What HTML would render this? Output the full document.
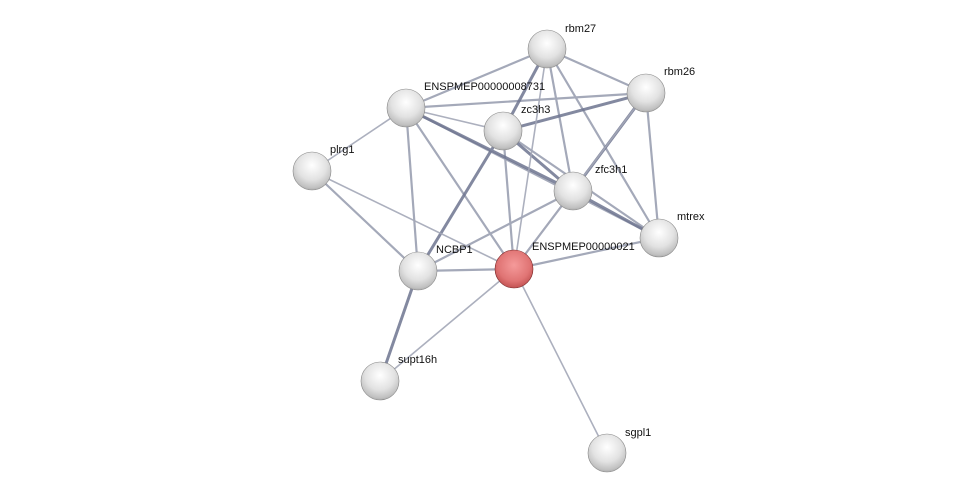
<!DOCTYPE html>
<html><head><meta charset="utf-8"><style>
html,body{margin:0;padding:0;background:#fff;}
svg{display:block;}
text{font-family:"Liberation Sans",Arial,sans-serif;font-size:11px;fill:#111;}
</style></head><body>
<svg width="975" height="499" viewBox="0 0 975 499" xmlns="http://www.w3.org/2000/svg">
<defs>
<radialGradient id="g" cx="0.5" cy="0.35" r="0.7">
<stop offset="0" stop-color="#ffffff"/><stop offset="0.55" stop-color="#e2e2e2"/><stop offset="0.85" stop-color="#c0c0c0"/><stop offset="1" stop-color="#9a9a9a"/>
</radialGradient>
<radialGradient id="r" cx="0.5" cy="0.4" r="0.7">
<stop offset="0" stop-color="#f59a9a"/><stop offset="0.6" stop-color="#e07474"/><stop offset="0.88" stop-color="#c05050"/><stop offset="1" stop-color="#8a2e2e"/>
</radialGradient>
</defs>
<g stroke-linecap="round">
<g stroke="#8e94a8" stroke-width="2.2" opacity="0.8">
<line x1="547" y1="49" x2="406" y2="108"/>
<line x1="547" y1="49" x2="646" y2="93"/>
<line x1="547" y1="49" x2="573" y2="191"/>
<line x1="547" y1="49" x2="659" y2="238"/>
<line x1="646" y1="93" x2="406" y2="108"/>
<line x1="646" y1="93" x2="659" y2="238"/>
<line x1="406" y1="108" x2="659" y2="238"/>
<line x1="406" y1="108" x2="418" y2="271"/>
<line x1="406" y1="108" x2="514" y2="269"/>
<line x1="503" y1="131" x2="659" y2="238"/>
<line x1="503" y1="131" x2="514" y2="269"/>
<line x1="573" y1="191" x2="418" y2="271"/>
<line x1="573" y1="191" x2="514" y2="269"/>
<line x1="659" y1="238" x2="514" y2="269"/>
<line x1="418" y1="271" x2="514" y2="269"/>
<line x1="418" y1="271" x2="312" y2="171"/>
</g>
<g stroke="#6e7590" stroke-width="3" opacity="0.85">
<line x1="547" y1="49" x2="503" y2="131"/>
<line x1="646" y1="93" x2="503" y2="131"/>
<line x1="646" y1="93" x2="573" y2="191"/>
<line x1="406" y1="108" x2="573" y2="191"/>
<line x1="503" y1="131" x2="573" y2="191"/>
<line x1="503" y1="131" x2="418" y2="271"/>
<line x1="573" y1="191" x2="659" y2="238"/>
<line x1="418" y1="271" x2="380" y2="381"/>
</g>
<g stroke="#a4a8b8" stroke-width="1.6" opacity="0.9">
<line x1="547" y1="49" x2="514" y2="269"/>
<line x1="646" y1="93" x2="514" y2="269"/>
<line x1="406" y1="108" x2="312" y2="171"/>
<line x1="406" y1="108" x2="503" y2="131"/>
<line x1="514" y1="269" x2="312" y2="171"/>
<line x1="514" y1="269" x2="380" y2="381"/>
<line x1="514" y1="269" x2="607" y2="453"/>
</g>
</g>
<text x="532" y="250">ENSPMEP00000021</text>
<g stroke="#888" stroke-width="0.6">
<circle cx="547" cy="49" r="19" fill="url(#g)"/>
<circle cx="646" cy="93" r="19" fill="url(#g)"/>
<circle cx="406" cy="108" r="19" fill="url(#g)"/>
<circle cx="503" cy="131" r="19" fill="url(#g)"/>
<circle cx="312" cy="171" r="19" fill="url(#g)"/>
<circle cx="573" cy="191" r="19" fill="url(#g)"/>
<circle cx="659" cy="238" r="19" fill="url(#g)"/>
<circle cx="418" cy="271" r="19" fill="url(#g)"/>
<circle cx="514" cy="269" r="19" fill="url(#r)" stroke="#7a2828"/>
<circle cx="380" cy="381" r="19" fill="url(#g)"/>
<circle cx="607" cy="453" r="19" fill="url(#g)"/>
</g>
<text x="565" y="32">rbm27</text>
<text x="664" y="75">rbm26</text>
<text x="424" y="90">ENSPMEP00000008731</text>
<text x="521" y="113">zc3h3</text>
<text x="330" y="153">plrg1</text>
<text x="595" y="173">zfc3h1</text>
<text x="677" y="220">mtrex</text>
<text x="436" y="253">NCBP1</text>
<text x="398" y="363">supt16h</text>
<text x="625" y="436">sgpl1</text>
</svg>
</body></html>
